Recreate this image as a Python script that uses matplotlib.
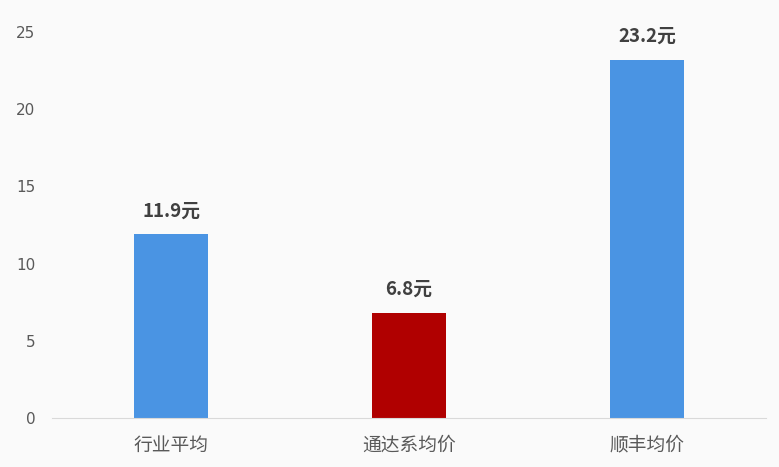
import matplotlib
matplotlib.use("Agg")
import matplotlib.pyplot as plt

categories = ["行业平均", "通达系均价", "顺丰均价"]
values = [11.9, 6.8, 23.2]
colors = ["#4a94e3", "#b00000", "#4a94e3"]
yticks = [0, 5, 10, 15, 20, 25]

plt.rcParams['font.family'] = ['Noto Sans CJK SC', 'DejaVu Sans']

fig = plt.figure(figsize=(7.79, 4.67), dpi=100, facecolor="#fafafa")
ax = fig.add_axes([52/779, 49/467, 714/779, 386/467])
ax.set_facecolor("#fafafa")

x = range(len(categories))
ax.bar(x, values, width=0.31, color=colors)
for xi, v in zip(x, values):
    ax.text(xi, v + 0.9, f"{v}元", ha="center", va="bottom",
            fontsize=13.5, fontweight="bold", color="#404040")

ax.set_xlim(-0.5, 2.5)
ax.set_ylim(0, 25)
ax.set_yticks(yticks)
ax.set_yticklabels([str(t) for t in yticks], fontsize=11, color="#595959",
                   family=['DejaVu Sans'])
ax.set_xticks(list(x))
ax.set_xticklabels(categories, fontsize=13.5, color="#595959")
ax.tick_params(axis="both", length=0)
ax.tick_params(axis="x", pad=12)
ax.tick_params(axis="y", pad=12)
for s in ["top", "right", "left"]:
    ax.spines[s].set_visible(False)
ax.spines["bottom"].set_color("#d9d9d9")

fig.savefig("out.png", dpi=100, facecolor=fig.get_facecolor())
